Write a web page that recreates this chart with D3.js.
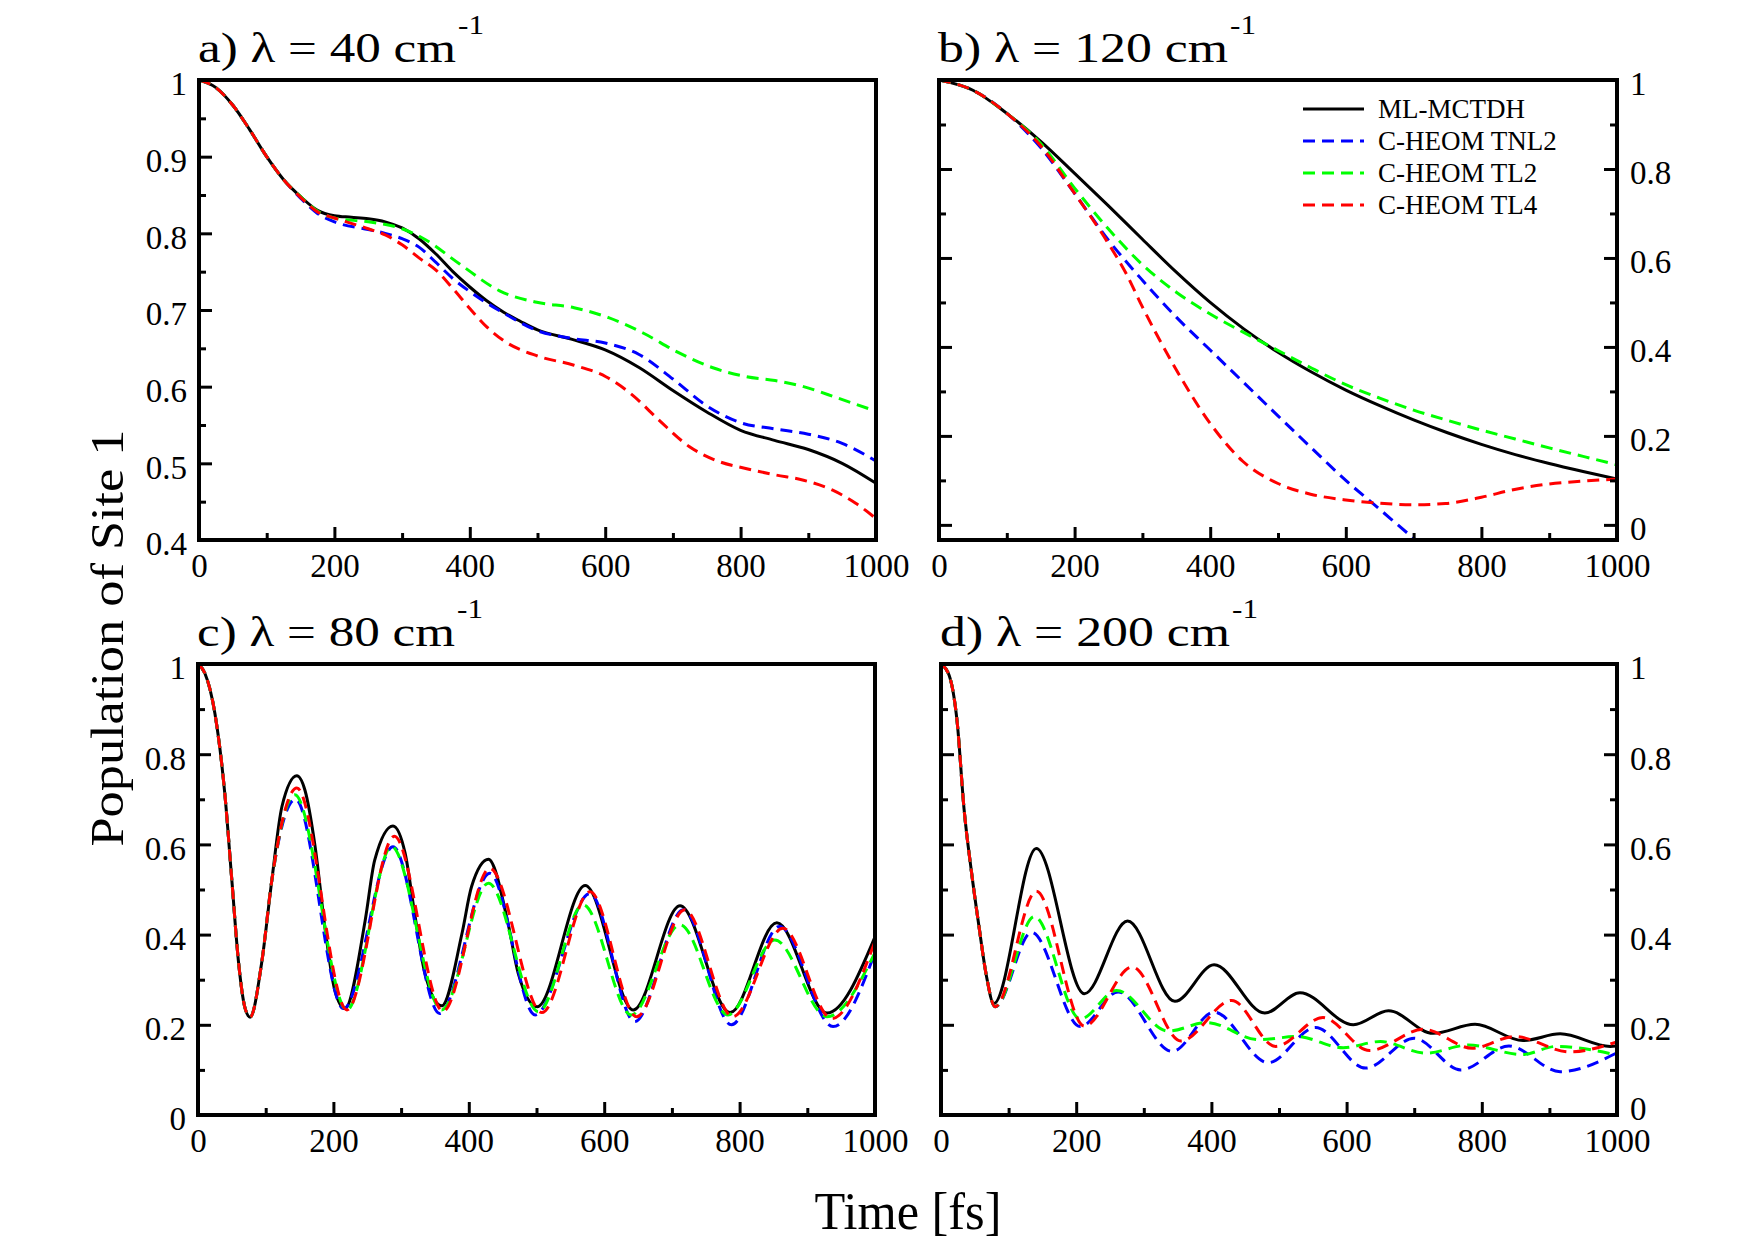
<!DOCTYPE html>
<html>
<head>
<meta charset="utf-8">
<script src="https://cdn.jsdelivr.net/npm/d3@7"></script>
<style>
  body { margin: 0; background: #fff; }
  svg { display: block; }
</style>
</head>
<body>
<svg id="chart" width="1755" height="1240"></svg>
<script>
// series names, in drawing order
var seriesNames = ['ML-MCTDH', 'C-HEOM TNL2', 'C-HEOM TL2', 'C-HEOM TL4'];
var seriesColors = ['#000000', '#0000ff', '#00ff00', '#ff0000'];

var panelTitles = ['a) λ = 40 cm', 'b) λ = 120 cm', 'c) λ = 80 cm', 'd) λ = 200 cm'];

var xTicks = [0, 200, 400, 600, 800, 1000];
var xMinor = [100, 300, 500, 700, 900];
var xLabels = ['0', '200', '400', '600', '800', '1000'];

var yTicksA = [0.4, 0.5, 0.6, 0.7, 0.8, 0.9, 1];
var yMinorA = [0.45, 0.55, 0.65, 0.75, 0.85, 0.95];
var yLabelsA = ['0.4', '0.5', '0.6', '0.7', '0.8', '0.9', '1'];

var yTicks = [0, 0.2, 0.4, 0.6, 0.8, 1];
var yMinor = [0.1, 0.3, 0.5, 0.7, 0.9];
var yLabels = ['0', '0.2', '0.4', '0.6', '0.8', '1'];

// a) lambda = 40 cm-1   [time fs, population]
var a_ml = [[0,1],[25,0.99],[50,0.967],[75,0.935],[100,0.9],[125,0.87],[150,0.848],[175,0.83],[200,0.823],[225,0.821],[250,0.819],[275,0.815],[300,0.807],[325,0.793],[350,0.773],[375,0.75],[400,0.73],[425,0.712],[450,0.697],[475,0.685],[500,0.674],[550,0.662],[600,0.648],[650,0.625],[700,0.595],[750,0.567],[800,0.543],[850,0.53],[900,0.518],[950,0.5],[1000,0.474]];
var a_tnl2 = [[0,1],[25,0.99],[50,0.967],[75,0.935],[100,0.9],[125,0.87],[150,0.846],[175,0.826],[200,0.815],[250,0.805],[275,0.8],[300,0.793],[325,0.782],[350,0.762],[375,0.741],[400,0.724],[450,0.696],[500,0.673],[550,0.663],[600,0.657],[650,0.642],[700,0.61],[750,0.575],[800,0.553],[850,0.545],[900,0.538],[950,0.526],[1000,0.503]];
var a_tl2 = [[0,1],[25,0.99],[50,0.967],[75,0.935],[100,0.9],[125,0.87],[150,0.848],[175,0.829],[200,0.82],[250,0.815],[300,0.806],[334,0.792],[385,0.76],[444,0.725],[499,0.71],[554,0.703],[605,0.69],[656,0.67],[707,0.645],[758,0.625],[809,0.613],[851,0.608],[893,0.6],[944,0.585],[1000,0.568]];
var a_tl4 = [[0,1],[25,0.99],[50,0.967],[75,0.935],[100,0.9],[125,0.87],[150,0.847],[175,0.828],[200,0.82],[250,0.806],[275,0.798],[300,0.785],[325,0.768],[350,0.752],[375,0.728],[400,0.702],[425,0.678],[450,0.66],[500,0.64],[554,0.628],[601,0.613],[639,0.59],[681,0.555],[724,0.522],[766,0.503],[809,0.493],[851,0.485],[893,0.478],[936,0.465],[970,0.448],[1000,0.428]];

// b) lambda = 120 cm-1
var b_ml = [[0,1],[50,0.977],[100,0.925],[150,0.862],[200,0.79],[250,0.717],[300,0.642],[350,0.568],[400,0.5],[450,0.44],[500,0.388],[550,0.343],[600,0.303],[650,0.268],[700,0.236],[750,0.207],[800,0.181],[850,0.158],[900,0.138],[950,0.12],[1000,0.103]];
var b_tnl2 = [[0,1],[50,0.977],[100,0.925],[150,0.848],[200,0.745],[250,0.64],[300,0.55],[350,0.467],[400,0.393],[450,0.319],[500,0.245],[550,0.172],[600,0.1],[650,0.035],[700,-0.03],[750,-0.09]];
var b_tl2 = [[0,1],[50,0.977],[100,0.925],[150,0.857],[200,0.757],[250,0.665],[300,0.585],[350,0.523],[400,0.474],[450,0.432],[500,0.392],[550,0.352],[600,0.315],[650,0.285],[700,0.258],[750,0.235],[800,0.213],[850,0.193],[900,0.173],[950,0.154],[1000,0.135]];
var b_tl4 = [[0,1],[50,0.977],[100,0.925],[150,0.852],[200,0.745],[250,0.632],[275,0.568],[300,0.49],[348,0.354],[400,0.228],[448,0.143],[500,0.093],[548,0.069],[600,0.056],[647,0.049],[700,0.045],[747,0.048],[800,0.062],[847,0.079],[900,0.092],[947,0.098],[1000,0.103]];

// c) lambda = 80 cm-1
var c_ml = [[0,1],[10,0.98],[25,0.89],[40,0.706],[50,0.52],[60,0.337],[69,0.24],[77,0.217],[94,0.337],[109,0.52],[124,0.684],[146,0.752],[158,0.72],[173,0.595],[188,0.41],[202,0.277],[217,0.236],[247,0.432],[261,0.565],[288,0.641],[306,0.58],[320,0.447],[335,0.315],[360,0.242],[390,0.403],[404,0.506],[429,0.567],[458,0.425],[473,0.314],[501,0.24],[572,0.509],[643,0.233],[712,0.464],[786,0.227],[855,0.426],[929,0.226],[1000,0.395]];
var c_tnl2 = [[0,1],[10,0.98],[25,0.89],[40,0.706],[50,0.52],[60,0.337],[69,0.24],[77,0.217],[94,0.337],[109,0.52],[144,0.70],[215,0.236],[288,0.595],[357,0.225],[431,0.536],[498,0.222],[579,0.491],[645,0.207],[717,0.455],[788,0.2],[859,0.418],[938,0.196],[1000,0.36]];
var c_tl2 = [[0,1],[10,0.98],[25,0.89],[40,0.706],[50,0.52],[60,0.337],[69,0.24],[77,0.217],[94,0.337],[109,0.52],[143,0.71],[220,0.233],[286,0.595],[360,0.233],[429,0.514],[503,0.229],[569,0.466],[640,0.222],[712,0.422],[783,0.222],[852,0.388],[929,0.218],[1000,0.36]];
var c_tl4 = [[0,1],[10,0.98],[25,0.89],[40,0.706],[50,0.52],[60,0.337],[69,0.24],[77,0.217],[94,0.337],[109,0.52],[146,0.725],[220,0.233],[290,0.618],[362,0.23],[431,0.547],[508,0.227],[579,0.495],[648,0.218],[719,0.455],[790,0.218],[864,0.414],[936,0.214],[1000,0.385]];

// d) lambda = 200 cm-1
var d_ml = [[0,1],[12,0.975],[24,0.87],[34,0.68],[45,0.54],[56,0.42],[67,0.31],[78,0.247],[141,0.591],[212,0.269],[276,0.43],[346,0.252],[404,0.333],[479,0.226],[531,0.271],[610,0.2],[662,0.231],[728,0.181],[790,0.201],[861,0.165],[916,0.18],[990,0.152],[1000,0.153]];
var d_tnl2 = [[0,1],[12,0.975],[24,0.87],[34,0.68],[45,0.54],[56,0.42],[67,0.31],[80,0.24],[134,0.405],[206,0.196],[262,0.273],[342,0.141],[404,0.228],[484,0.116],[554,0.194],[628,0.104],[700,0.17],[769,0.1],[840,0.153],[916,0.096],[1000,0.138]];
var d_tl2 = [[0,1],[12,0.975],[24,0.87],[34,0.68],[45,0.54],[56,0.42],[67,0.31],[80,0.24],[138,0.44],[206,0.213],[260,0.276],[336,0.186],[393,0.205],[470,0.167],[527,0.174],[595,0.149],[650,0.163],[717,0.137],[780,0.155],[860,0.134],[910,0.152],[1000,0.133]];
var d_tl4 = [[0,1],[12,0.975],[24,0.87],[34,0.68],[45,0.54],[56,0.42],[67,0.31],[80,0.24],[141,0.496],[212,0.197],[283,0.328],[355,0.164],[430,0.254],[495,0.152],[565,0.216],[634,0.143],[714,0.19],[786,0.148],[848,0.174],[930,0.14],[1000,0.162]];

var font = '"Liberation Serif", "Times New Roman", Times, serif';
var svg = d3.select('#chart');

svg.append('rect').attr('width', 1755).attr('height', 1240).attr('fill', '#fff');

// frame boxes of the four panels (pixels)
var panels = [
  {key: 'a', x0: 199, x1: 876, y0: 80, y1: 540, ylo: 0.4, right: false, titleW: 258, sets: [a_ml, a_tnl2, a_tl2, a_tl4]},
  {key: 'b', x0: 939, x1: 1617, y0: 80, y1: 540, ylo: -0.034, right: true, titleW: 290, sets: [b_ml, b_tnl2, b_tl2, b_tl4]},
  {key: 'c', x0: 198, x1: 875, y0: 664, y1: 1115, ylo: 0, right: false, titleW: 258, sets: [c_ml, c_tnl2, c_tl2, c_tl4]},
  {key: 'd', x0: 941, x1: 1617, y0: 664, y1: 1115, ylo: 0, right: true, titleW: 290, sets: [d_ml, d_tnl2, d_tl2, d_tl4]}
];

function styleAxis(sel) {
  sel.select('.domain').remove();
  sel.attr('font-family', font).attr('font-size', 33);
  sel.selectAll('line').attr('stroke', '#000').attr('stroke-width', 3);
  sel.selectAll('text').attr('fill', '#000');
}

panels.forEach(function (p, pi) {
  var x = d3.scaleLinear().domain([0, 1000]).range([p.x0, p.x1]);
  var y = d3.scaleLinear().domain([p.ylo, 1]).range([p.y1, p.y0]);
  var majorY = p.key === 'a' ? yTicksA : yTicks;
  var minorY = p.key === 'a' ? yMinorA : yMinor;
  var labY = p.key === 'a' ? yLabelsA : yLabels;

  svg.append('clipPath').attr('id', 'clip-' + p.key)
    .append('rect')
    .attr('x', p.x0).attr('y', p.y0)
    .attr('width', p.x1 - p.x0).attr('height', p.y1 - p.y0);

  var g = svg.append('g');

  var line = d3.line()
    .x(function (d) { return x(d[0]); })
    .y(function (d) { return y(d[1]); })
    .curve(d3.curveMonotoneX);

  var lines = g.append('g').attr('clip-path', 'url(#clip-' + p.key + ')');
  p.sets.forEach(function (s, i) {
    lines.append('path')
      .datum(s)
      .attr('d', line)
      .attr('fill', 'none')
      .attr('stroke', seriesColors[i])
      .attr('stroke-width', 3)
      .attr('stroke-dasharray', i === 0 ? null : '12,7');
  });

  // bottom axis, ticks pointing inward
  g.append('g')
    .attr('transform', 'translate(0,' + p.y1 + ')')
    .call(d3.axisBottom(x).tickValues(xTicks).tickSize(-13).tickPadding(14)
      .tickFormat(function (d, i) { return xLabels[i]; }))
    .call(styleAxis);
  g.append('g')
    .attr('transform', 'translate(0,' + p.y1 + ')')
    .call(d3.axisBottom(x).tickValues(xMinor).tickSize(-7).tickFormat(''))
    .call(styleAxis);

  // left axis (labels only on a and c)
  g.append('g')
    .attr('transform', 'translate(' + p.x0 + ',0)')
    .call(d3.axisLeft(y).tickValues(majorY).tickSize(-13).tickPadding(12)
      .tickFormat(function (d, i) { return p.right ? '' : labY[i]; }))
    .call(styleAxis)
    .selectAll('text').attr('dy', '0.45em');
  g.append('g')
    .attr('transform', 'translate(' + p.x0 + ',0)')
    .call(d3.axisLeft(y).tickValues(minorY).tickSize(-7).tickFormat(''))
    .call(styleAxis);

  if (p.right) {
    g.append('g')
      .attr('transform', 'translate(' + p.x1 + ',0)')
      .call(d3.axisRight(y).tickValues(majorY).tickSize(-13).tickPadding(13)
        .tickFormat(function (d, i) { return labY[i]; }))
      .call(styleAxis)
      .selectAll('text')
      .attr('dy', function (d) { return (p.key === 'd' && d === 0) ? '0.15em' : '0.45em'; });
    g.append('g')
      .attr('transform', 'translate(' + p.x1 + ',0)')
      .call(d3.axisRight(y).tickValues(minorY).tickSize(-7).tickFormat(''))
      .call(styleAxis);
  }

  g.append('rect')
    .attr('x', p.x0).attr('y', p.y0)
    .attr('width', p.x1 - p.x0).attr('height', p.y1 - p.y0)
    .attr('fill', 'none')
    .attr('stroke', '#000')
    .attr('stroke-width', 4);

  // panel title with superscript
  var tx = p.x0 - 1;
  var ty = p.y0 - 18;
  svg.append('text')
    .attr('x', tx).attr('y', ty)
    .attr('font-family', font).attr('font-size', 42)
    .attr('textLength', p.titleW).attr('lengthAdjust', 'spacingAndGlyphs')
    .text(panelTitles[pi]);
  svg.append('text')
    .attr('x', tx + p.titleW + 2).attr('y', ty - 28)
    .attr('font-family', font).attr('font-size', 27)
    .attr('textLength', 26).attr('lengthAdjust', 'spacingAndGlyphs')
    .text('-1');
});

// legend (panel b)
var legend = svg.append('g').attr('font-family', font).attr('font-size', 27);
seriesNames.forEach(function (name, i) {
  var ly = 109 + i * 32;
  legend.append('line')
    .attr('x1', 1303).attr('x2', 1364).attr('y1', ly).attr('y2', ly)
    .attr('stroke', seriesColors[i]).attr('stroke-width', 3)
    .attr('stroke-dasharray', i === 0 ? null : '12,7');
  legend.append('text')
    .attr('x', 1378).attr('y', ly + 9)
    .text(name);
});

// axis titles
svg.append('text')
  .attr('transform', 'translate(123,638) rotate(-90)')
  .attr('text-anchor', 'middle')
  .attr('font-family', font).attr('font-size', 46)
  .attr('textLength', 417).attr('lengthAdjust', 'spacingAndGlyphs')
  .text('Population of Site 1');

svg.append('text')
  .attr('x', 908).attr('y', 1229)
  .attr('text-anchor', 'middle')
  .attr('font-family', font).attr('font-size', 52)
  .attr('textLength', 187).attr('lengthAdjust', 'spacingAndGlyphs')
  .text('Time [fs]');
</script>
</body>
</html>
